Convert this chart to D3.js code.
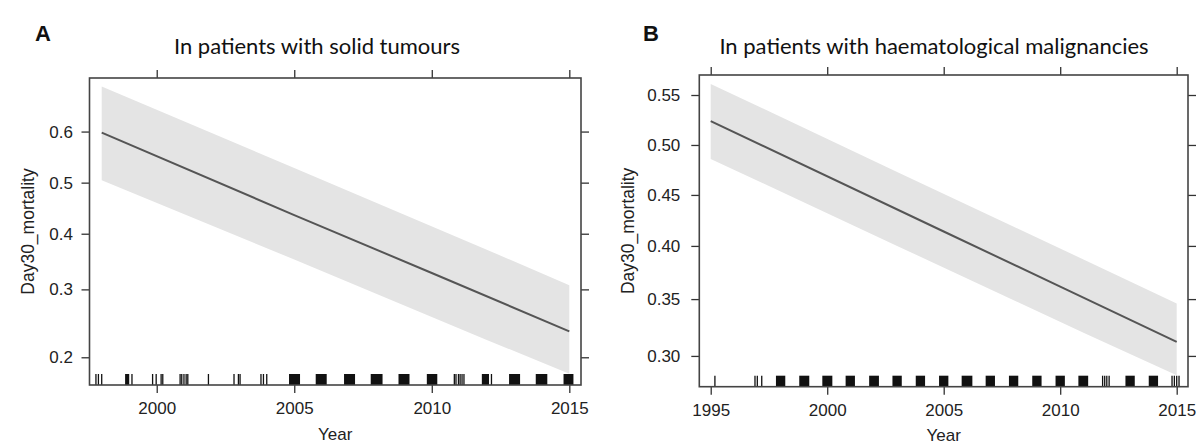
<!DOCTYPE html>
<html>
<head>
<meta charset="utf-8">
<script src="https://cdn.jsdelivr.net/npm/d3@7"></script>
<style>
  body { margin: 0; background: #fff; }
  svg { display: block; }
</style>
</head>
<body>
<svg id="chart" width="1196" height="445"></svg>
<script>
// ---- Panel A: solid tumours ----
const fitYearsA = [1998, 2005, 2010, 2015];
const fitA = [0.598, 0.436, 0.328, 0.235];
const bandYearsA = [1998, 2005, 2012, 2015];
const upperA = [0.682, 0.529, 0.370, 0.307];
const lowerA = [0.505, 0.352, 0.223, 0.180];
const rugLinesA = [1997.79, 1997.88, 1998.0, 1999.1, 1999.85, 1999.98, 2000.16, 2000.22,
  2000.85, 2000.91, 2000.99, 2001.07, 2001.13, 2001.88, 2002.81, 2002.97, 2003.03,
  2003.79, 2003.88, 2004.0, 2010.82, 2010.88, 2010.97, 2011.03, 2011.1, 2011.17, 2012.17];
const rugBlocksA = [[1998.85, 1999.0], [2004.81, 2005.21], [2005.78, 2006.18], [2006.81, 2007.21],
  [2007.78, 2008.21], [2008.79, 2009.19], [2009.82, 2010.2], [2011.82, 2012.08],
  [2012.81, 2013.21], [2013.78, 2014.2], [2014.79, 2015.15]];
const xTicksA = [2000, 2005, 2010, 2015];
const yTicksA = [0.2, 0.3, 0.4, 0.5, 0.6];
const yLabelsA = ["0.2", "0.3", "0.4", "0.5", "0.6"];

// ---- Panel B: haematological malignancies ----
const fitYearsB = [1995, 2005, 2010, 2015];
const fitB = [0.524, 0.414, 0.3615, 0.312];
const bandYearsB = [1995, 2003, 2011, 2015];
const upperB = [0.561, 0.473, 0.387, 0.346];
const lowerB = [0.486, 0.400, 0.320, 0.284];
const rugLinesB = [1995.18, 1996.9, 1997.0, 1997.19, 2011.82, 2011.91, 2012.0, 2012.1,
  2014.8, 2014.9, 2015.0, 2015.1];
const rugBlocksB = [[1997.8, 1998.2], [1998.8, 1999.23], [1999.79, 2000.22], [2000.79, 2001.19],
  [2001.8, 2002.22], [2002.8, 2003.2], [2003.8, 2004.2], [2004.8, 2005.2], [2005.77, 2006.23],
  [2006.8, 2007.2], [2007.8, 2008.2], [2008.8, 2009.2], [2009.8, 2010.2], [2010.78, 2011.2],
  [2012.8, 2013.2], [2013.8, 2014.2]];
const xTicksB = [1995, 2000, 2005, 2010, 2015];
const yTicksB = [0.30, 0.35, 0.40, 0.45, 0.50, 0.55];
const yLabelsB = ["0.30", "0.35", "0.40", "0.45", "0.50", "0.55"];

const logit = p => Math.log(p / (1 - p));

const svg = d3.select("#chart");
const sans = "'Liberation Sans', Arial, sans-serif";

const drawPanel = (cfg) => {
  const {left, right, top, bottom} = cfg.box;
  const g = svg.append("g");

  // Scales (y on logit scale, like the effects plot)
  const x = d3.scaleLinear().domain(cfg.xDomain).range([left, right]);
  const yLin = d3.scaleLinear().domain([logit(cfg.yDomain[0]), logit(cfg.yDomain[1])]).range([bottom, top]);
  const y = p => yLin(logit(p));

  // Confidence band
  const band = cfg.bandYears.map((yr, i) => ({yr, lo: cfg.lower[i], hi: cfg.upper[i]}));
  g.append("path")
    .datum(band)
    .attr("fill", "#e4e4e4")
    .attr("d", d3.area().x(d => x(d.yr)).y0(d => y(d.lo)).y1(d => y(d.hi)));

  // Fitted line
  const fit = cfg.fitYears.map((yr, i) => ({yr, p: cfg.fit[i]}));
  g.append("path")
    .datum(fit)
    .attr("fill", "none")
    .attr("stroke", "#555")
    .attr("stroke-width", 2)
    .attr("d", d3.line().x(d => x(d.yr)).y(d => y(d.p)));

  // Rug
  g.selectAll(".rug-line")
    .data(cfg.rugLines)
    .join("line")
      .attr("x1", d => x(d)).attr("x2", d => x(d))
      .attr("y1", bottom - 11).attr("y2", bottom)
      .attr("stroke", "#111")
      .attr("stroke-width", 1.3);
  g.selectAll(".rug-block")
    .data(cfg.rugBlocks)
    .join("rect")
      .attr("x", d => x(d[0]))
      .attr("width", d => x(d[1]) - x(d[0]))
      .attr("y", bottom - 11)
      .attr("height", 11)
      .attr("fill", "#111");

  // Axes
  const styleAxis = sel => {
    sel.select(".domain").remove();
    sel.selectAll("line").attr("stroke", "#333").attr("stroke-width", 1.3);
    sel.selectAll("text")
      .attr("font-family", sans)
      .attr("font-size", 17)
      .attr("fill", "#222");
  };

  g.append("g")
    .attr("transform", `translate(0,${bottom})`)
    .call(d3.axisBottom(x).tickValues(cfg.xTicks).tickFormat(d3.format("d")).tickSize(8).tickPadding(9))
    .call(styleAxis);
  g.append("g")
    .attr("transform", `translate(0,${top})`)
    .call(d3.axisTop(x).tickValues(cfg.xTicks).tickFormat("").tickSize(8))
    .call(styleAxis);
  g.append("g")
    .attr("transform", `translate(${left},0)`)
    .call(d3.axisLeft(yLin).tickValues(cfg.yTicks.map(logit))
      .tickFormat((d, i) => cfg.yLabels[i]).tickSize(8).tickPadding(cfg.yPad))
    .call(styleAxis);
  g.append("g")
    .attr("transform", `translate(${right},0)`)
    .call(d3.axisRight(yLin).tickValues(cfg.yTicks.map(logit)).tickFormat("").tickSize(8))
    .call(styleAxis);

  // Box
  g.append("rect")
    .attr("x", left).attr("y", top)
    .attr("width", right - left).attr("height", bottom - top)
    .attr("fill", "none")
    .attr("stroke", "#444")
    .attr("stroke-width", 1.6);

  // Axis titles
  g.append("text")
    .attr("x", (left + right) / 2)
    .attr("y", cfg.xTitleY)
    .attr("text-anchor", "middle")
    .attr("font-family", sans)
    .attr("font-size", 17)
    .attr("fill", "#222")
    .text("Year");
  g.append("text")
    .attr("transform", `translate(${cfg.yTitleX},${(top + bottom) / 2}) rotate(-90)`)
    .attr("text-anchor", "middle")
    .attr("font-family", sans)
    .attr("font-size", 17.5)
    .attr("fill", "#222")
    .text("Day30_mortality");

  // Panel letter and title
  g.append("text")
    .attr("x", cfg.letterX).attr("y", 41)
    .attr("font-family", sans)
    .attr("font-weight", "bold")
    .attr("font-size", 22)
    .attr("fill", "#111")
    .text(cfg.letter);
  g.append("text")
    .attr("x", cfg.titleX).attr("y", 54)
    .attr("text-anchor", "middle")
    .attr("font-family", "Lato, 'Open Sans', sans-serif")
    .attr("font-size", 22)
    .attr("fill", "#111")
    .text(cfg.title);
};

drawPanel({
  box: {left: 89.5, right: 581, top: 78, bottom: 385},
  xDomain: [1997.556, 2015.425],
  yDomain: [0.1671, 0.6965],
  fitYears: fitYearsA, fit: fitA,
  bandYears: bandYearsA, upper: upperA, lower: lowerA,
  rugLines: rugLinesA, rugBlocks: rugBlocksA,
  xTicks: xTicksA, yTicks: yTicksA, yLabels: yLabelsA, yPad: 8.5,
  xTitleY: 440, yTitleX: 34,
  letter: "A", letterX: 35, titleX: 317,
  title: "In patients with solid tumours"
});

drawPanel({
  box: {left: 699.3, right: 1188, top: 75, bottom: 386.7},
  xDomain: [1994.51, 2015.485],
  yDomain: [0.2747, 0.5698],
  fitYears: fitYearsB, fit: fitB,
  bandYears: bandYearsB, upper: upperB, lower: lowerB,
  rugLines: rugLinesB, rugBlocks: rugBlocksB,
  xTicks: xTicksB, yTicks: yTicksB, yLabels: yLabelsB, yPad: 11,
  xTitleY: 440.5, yTitleX: 634,
  letter: "B", letterX: 643, titleX: 934,
  title: "In patients with haematological malignancies"
});
</script>
</body>
</html>
